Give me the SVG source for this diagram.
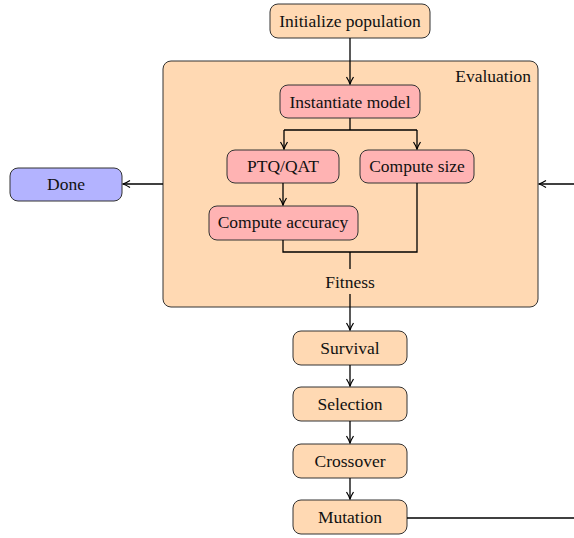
<svg xmlns="http://www.w3.org/2000/svg" width="574" height="538" viewBox="0 0 574 538">
<defs>
<marker id="arr" viewBox="0 0 10 10" refX="9" refY="5" markerWidth="10" markerHeight="10" markerUnits="userSpaceOnUse" orient="auto">
<path d="M2,1.5 Q6,4 9,5 Q6,6 2,8.5" fill="none" stroke="#000" stroke-width="1.2"/>
</marker>
</defs>
<style>
.n rect{stroke:#333;stroke-width:1}
.o rect{fill:#ffd9b3}
.r rect{fill:#ffb3b3}
.b rect{fill:#b3b3ff}
text{font-family:"Liberation Serif","DejaVu Serif",serif;font-size:17.5px;fill:#111;text-anchor:middle}
.c{fill:none;stroke:#000;stroke-width:1.3}
</style>
<g id="evaluation" class="n o"><rect x="163" y="61" width="375" height="246" rx="8"/><text x="531" y="82" style="text-anchor:end">Evaluation</text></g>
<g id="init" class="n o"><rect x="270" y="4" width="160" height="34" rx="8"/><text x="350" y="27">Initialize population</text></g>
<g id="inst" class="n r"><rect x="280" y="85" width="140" height="33" rx="8"/><text x="350" y="107.5">Instantiate model</text></g>
<g id="ptq" class="n r"><rect x="227" y="150" width="112" height="33" rx="8"/><text x="283" y="171.5">PTQ/QAT</text></g>
<g id="size" class="n r"><rect x="360" y="150" width="114" height="33" rx="8"/><text x="417" y="171.5">Compute size</text></g>
<g id="acc" class="n r"><rect x="209" y="206" width="149" height="34" rx="8"/><text x="283" y="228">Compute accuracy</text></g>
<g id="done" class="n b"><rect x="10" y="168" width="112" height="33" rx="8"/><text x="66" y="190">Done</text></g>
<g id="survival" class="n o"><rect x="293" y="331" width="114" height="34" rx="8"/><text x="350" y="354">Survival</text></g>
<g id="selection" class="n o"><rect x="293" y="387" width="114" height="34" rx="8"/><text x="350" y="410">Selection</text></g>
<g id="crossover" class="n o"><rect x="293" y="444" width="114" height="34" rx="8"/><text x="350" y="467">Crossover</text></g>
<g id="mutation" class="n o"><rect x="293" y="500" width="114" height="34" rx="8"/><text x="350" y="523">Mutation</text></g>
<g id="fitness"><text x="350" y="288">Fitness</text></g>
<g id="connectors">
<path class="c" d="M350,38 V84" marker-end="url(#arr)"/>
<path class="c" d="M350,118 V130"/>
<path class="c" d="M284,130 H417"/>
<path class="c" d="M284,130 V149" marker-end="url(#arr)"/>
<path class="c" d="M417,130 V149" marker-end="url(#arr)"/>
<path class="c" d="M283,183 V205" marker-end="url(#arr)"/>
<path class="c" d="M283,240 V252 H417 V183"/>
<path class="c" d="M350,252 V269"/>
<path class="c" d="M350,294 V330" marker-end="url(#arr)"/>
<path class="c" d="M163,184 H123" marker-end="url(#arr)"/>
<path class="c" d="M574,184 H539" marker-end="url(#arr)"/>
<path class="c" d="M350,365 V386" marker-end="url(#arr)"/>
<path class="c" d="M350,421 V443" marker-end="url(#arr)"/>
<path class="c" d="M350,478 V499" marker-end="url(#arr)"/>
<path class="c" d="M407,518 H574"/>
</g>
</svg>
